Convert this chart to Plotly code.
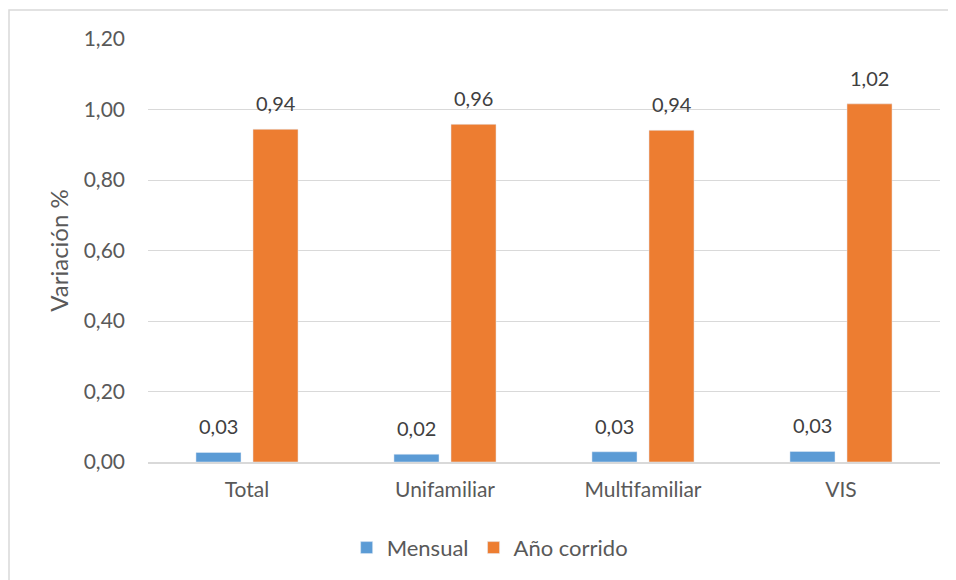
import plotly.graph_objects as go

categories = ["Total", "Unifamiliar", "Multifamiliar", "VIS"]
mensual = [0.027, 0.022, 0.029, 0.030]
anio_corrido = [0.944, 0.958, 0.941, 1.016]
y_ticks = [0.0, 0.2, 0.4, 0.6, 0.8, 1.0, 1.2]

FONT = "Lato"
# page body has an 8px offset
W, H = 948, 572
L, R, T, B = 140, 16, 31, 117

fig = go.Figure()
fig.add_trace(go.Bar(name="Mensual", x=categories, y=mensual, marker_color="#5B9BD5",
                     offsetgroup="a"))
fig.add_trace(go.Bar(name="Año corrido", x=categories, y=anio_corrido, marker_color="#ED7D31",
                     offsetgroup="b"))

BARGAP, GROUPGAP = 0.424, 0.21
slot = (1 - BARGAP) / 2
offsets = [-slot / 2, slot / 2]
for series, off in zip([mensual, anio_corrido], offsets):
    for i, v in enumerate(series):
        fig.add_annotation(x=i + off, y=v, xref="x", yref="y", text=f"{v:.2f}".replace(".", ","),
                           showarrow=False, yanchor="bottom", yshift=12,
                           font=dict(size=20, color="#404040", family=FONT))

pw = W - L - R
ph = H - T - B
fig.add_shape(type="rect", xref="paper", yref="paper",
              x0=(1 - L) / pw, x1=(W + 20 - L) / pw,
              y0=-(H + 20 - T - ph) / ph, y1=(T - 2 + ph) / ph,
              line=dict(color="#D9D9D9", width=1.5), fillcolor="rgba(0,0,0,0)", layer="below")

fig.update_layout(
    width=W, height=H,
    margin=dict(l=L, r=R, t=T, b=B),
    paper_bgcolor="white", plot_bgcolor="white",
    separators=",.",
    barmode="group", bargap=BARGAP, bargroupgap=GROUPGAP,
    font=dict(family=FONT, color="#595959", size=20),
    showlegend=True,
    legend=dict(orientation="h", x=0.432, xanchor="center", y=-0.2, yanchor="middle",
                font=dict(size=22, color="#595959"), itemwidth=30, traceorder="normal"),
    xaxis=dict(showgrid=False, showline=True, linecolor="#D9D9D9", linewidth=1.5,
               tickfont=dict(size=21, color="#595959"), ticks="", ticklabelstandoff=8),
    yaxis=dict(range=[0, 1.2], tickvals=y_ticks, tickformat=".2f",
               showgrid=True, gridcolor="#D9D9D9", gridwidth=1, zeroline=False,
               tickfont=dict(size=21, color="#595959"), ticks="", ticklabelstandoff=22,
               title=dict(text="Variación %", font=dict(size=24, color="#595959"), standoff=8)),
)

fig.write_html("out.html")
